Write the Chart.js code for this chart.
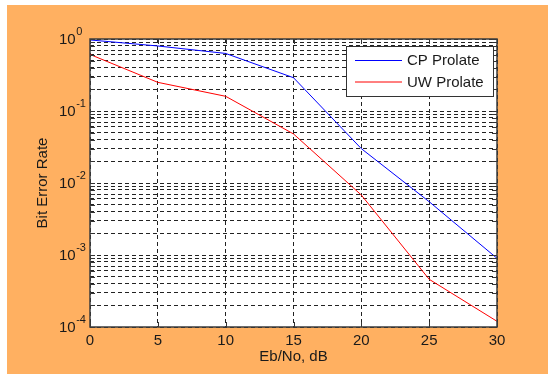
<!DOCTYPE html>
<html><head><meta charset="utf-8">
<script src="https://cdn.jsdelivr.net/npm/chart.js@4.4.0/dist/chart.umd.min.js"></script>
<style>
html,body{margin:0;padding:0;background:#fff;}
#wrap{position:relative;width:548px;height:375px;overflow:hidden;}
#bg{position:absolute;left:7px;top:5px;width:541px;height:369px;background:#FFB061;}
canvas{position:absolute;left:0;top:0;}
</style></head><body>
<div id="wrap"><div id="bg"></div><canvas id="c" width="548" height="375"></canvas></div>
<script>
const ebno = [0, 5, 10, 15, 20, 25, 30];
const cpProlate = [0.97, 0.80, 0.63, 0.29, 0.03, 0.0055, 0.0009];
const uwProlate = [0.61, 0.25, 0.16, 0.048, 0.0068, 0.00046, 0.00012];
const seriesNames = ['CP Prolate', 'UW Prolate'];
const seriesColors = ['#0000FF', '#FF0000'];
const xTicks = [0, 5, 10, 15, 20, 25, 30];
const yDecades = [-4, -3, -2, -1, 0];
const xTitle = 'Eb/No, dB';
const yTitle = 'Bit Error Rate';

const FONT = "'Liberation Sans', Arial, sans-serif";
const TXT = '#1a1a1a';

function yTickValues() {
  const out = [];
  for (let i = 0; i < yDecades.length - 1; i++) {
    for (let m = 1; m <= 9; m++) out.push(m * Math.pow(10, yDecades[i]));
  }
  out.push(Math.pow(10, yDecades[yDecades.length - 1]));
  return out;
}

const plotBg = {
  id: 'plotBg',
  beforeDraw(chart) {
    const a = chart.chartArea, ctx = chart.ctx;
    ctx.save();
    ctx.fillStyle = '#fff';
    ctx.fillRect(a.left, a.top, a.right - a.left, a.bottom - a.top);
    ctx.restore();
  }
};

const decor = {
  id: 'decor',
  afterDraw(chart) {
    const ctx = chart.ctx;
    const a = chart.chartArea;
    const xs = chart.scales.x, ys = chart.scales.y;
    ctx.save();
    ctx.strokeStyle = '#333';
    ctx.lineWidth = 1;
    ctx.setLineDash([]);
    xTicks.forEach(v => {
      const px = Math.round(xs.getPixelForValue(v)) + 0.5;
      ctx.beginPath();
      ctx.moveTo(px, a.bottom); ctx.lineTo(px, a.bottom - 5);
      ctx.moveTo(px, a.top); ctx.lineTo(px, a.top + 5);
      ctx.stroke();
    });
    yTickValues().forEach(v => {
      const py = Math.round(ys.getPixelForValue(v)) + 0.5;
      ctx.beginPath();
      ctx.moveTo(a.left, py); ctx.lineTo(a.left + 5, py);
      ctx.moveTo(a.right, py); ctx.lineTo(a.right - 5, py);
      ctx.stroke();
    });
    ctx.strokeStyle = '#3c3c3c';
    ctx.lineWidth = 1.5;
    ctx.strokeRect(a.left, a.top, a.right - a.left, a.bottom - a.top);
    ctx.fillStyle = TXT;
    ctx.textBaseline = 'middle';
    ctx.textAlign = 'left';
    yDecades.forEach(e => {
      const py = ys.getPixelForValue(Math.pow(10, e));
      ctx.font = '15px ' + FONT;
      const w = ctx.measureText('10').width;
      ctx.fillText('10', 59, py + 1);
      ctx.font = '11px ' + FONT;
      ctx.fillText(String(e), 59 + w + 0.5, py - 7.5);
    });
    const lx = 346.5, ly = 46.5, lw = 147, lh = 50;
    ctx.fillStyle = '#fff';
    ctx.fillRect(lx, ly, lw, lh);
    ctx.strokeStyle = '#333';
    ctx.lineWidth = 1;
    ctx.strokeRect(lx, ly, lw, lh);
    chart.data.datasets.forEach((ds, i) => {
      const cy = 60.5 + i * 21.5;
      ctx.strokeStyle = ds.borderColor;
      ctx.lineWidth = 1;
      ctx.beginPath();
      ctx.moveTo(355, cy); ctx.lineTo(402, cy);
      ctx.stroke();
      ctx.fillStyle = TXT;
      ctx.font = '15px ' + FONT;
      ctx.textBaseline = 'middle';
      ctx.fillText(ds.label, 407, cy + 0.5);
    });
    ctx.restore();
  }
};

new Chart(document.getElementById('c'), {
  type: 'line',
  data: {
    datasets: [
      { label: seriesNames[0], data: ebno.map((x, i) => ({x, y: cpProlate[i]})),
        borderColor: seriesColors[0], borderWidth: 1, pointRadius: 0, tension: 0, fill: false },
      { label: seriesNames[1], data: ebno.map((x, i) => ({x, y: uwProlate[i]})),
        borderColor: seriesColors[1], borderWidth: 1, pointRadius: 0, tension: 0, fill: false }
    ]
  },
  options: {
    responsive: false,
    animation: false,
    devicePixelRatio: 1,
    layout: { padding: { left: 0, right: 51, top: 39, bottom: 0 } },
    plugins: { legend: { display: false }, tooltip: { enabled: false } },
    scales: {
      x: {
        type: 'linear', min: 0, max: 30,
        afterBuildTicks(s) { s.ticks = xTicks.map(v => ({ value: v })); },
        afterFit(s) { s.height = 48; },
        ticks: { autoSkip: false, maxRotation: 0, color: TXT, padding: 5, font: { family: FONT, size: 15 } },
        grid: { color: '#222', lineWidth: 1, drawTicks: false },
        border: { display: false, dash: [4, 3] },
        title: { display: true, text: xTitle, color: TXT, font: { family: FONT, size: 15 }, padding: { top: 0, bottom: 9.6 } }
      },
      y: {
        type: 'logarithmic', min: 1e-4, max: 1,
        afterBuildTicks(s) { s.ticks = yTickValues().map(v => ({ value: v })); },
        afterFit(s) { s.width = 90; },
        ticks: { autoSkip: false, callback: () => '', font: { family: FONT, size: 15 } },
        grid: { color: '#222', lineWidth: 1, drawTicks: false },
        border: { display: false, dash: [4, 3] },
        title: { display: true, text: yTitle, color: TXT, font: { family: FONT, size: 15 }, padding: { top: 33.6, bottom: 0 } }
      }
    }
  },
  plugins: [plotBg, decor]
});
</script>
</body></html>
